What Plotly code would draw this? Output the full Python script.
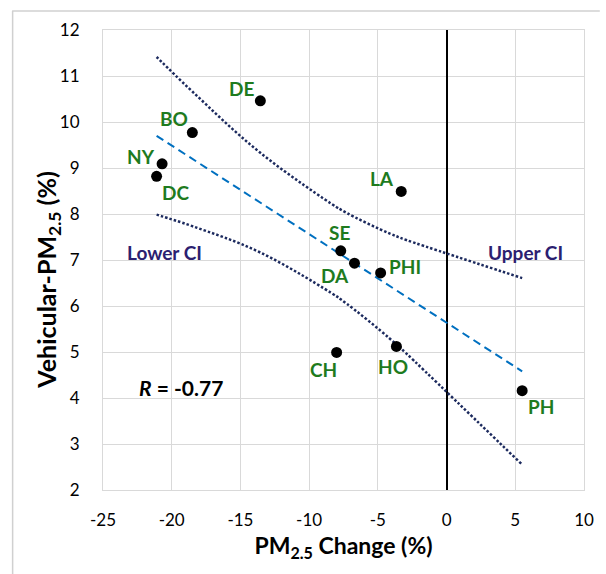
import numpy as np
import plotly.graph_objects as go

# ---- data ----
cities = ["DE", "BO", "NY", "DC", "LA", "SE", "DA", "PHI", "CH", "HO", "PH"]
pm25_change = [-13.55, -18.5, -20.7, -21.1, -3.3, -7.7, -6.7, -4.8, -8.0, -3.65, 5.5]
vehicular_pm25 = [10.46, 9.77, 9.09, 8.82, 8.49, 7.20, 6.93, 6.72, 4.99, 5.12, 4.16]
x_tick_vals = [-25, -20, -15, -10, -5, 0, 5, 10]
y_tick_vals = [2, 3, 4, 5, 6, 7, 8, 9, 10, 11, 12]
t_95_df9 = 2.262  # Student t, 95 %, n-2 = 9 dof

# label offsets (pixels) relative to each point
label_dx = [-19, -18, -21, 19, -19, -1, -19, 24, -13, -3, 19]
label_dy = [12, 14, 7, -16, 13, 18, -12, 6, -17, -20, -16]

x = np.array(pm25_change)
y = np.array(vehicular_pm25)
n = len(x)
slope, intercept = np.polyfit(x, y, 1)
r = np.corrcoef(x, y)[0, 1]
resid = y - (slope * x + intercept)
s = np.sqrt(np.sum(resid ** 2) / (n - 2))
sxx = np.sum((x - x.mean()) ** 2)

xs = np.sort(x)
fit = slope * xs + intercept
hw = t_95_df9 * s * np.sqrt(1.0 / n + (xs - x.mean()) ** 2 / sxx)

GREEN = "#1E7B1E"
NAVY = "#2B2070"
DOT = "#1C2A5E"
FONT = "Lato"

W, H = 606, 574
L, R, T, B = 103, 16, 30, 84
PW, PH = W - L - R, H - T - B


def px_x(p):
    return (p - L) / PW


def px_y(p):
    return (H - B - p) / PH


fig = go.Figure()
fig.add_trace(go.Scatter(x=xs, y=fit + hw, mode="lines",
                         line=dict(color=DOT, width=2.5, dash="2.5px,2px", shape="spline", smoothing=1.1),
                         hoverinfo="skip"))
fig.add_trace(go.Scatter(x=xs, y=fit - hw, mode="lines",
                         line=dict(color=DOT, width=2.5, dash="2.5px,2px", shape="spline", smoothing=1.1),
                         hoverinfo="skip"))
fig.add_trace(go.Scatter(x=[xs[0], xs[-1]], y=[fit[0], fit[-1]], mode="lines",
                         line=dict(color="#0070C0", width=2, dash="8px,5px"), hoverinfo="skip"))
fig.add_trace(go.Scatter(x=x, y=y, mode="markers", marker=dict(color="black", size=11)))

ann = []
for c, xi, yi, dx, dy in zip(cities, pm25_change, vehicular_pm25, label_dx, label_dy):
    ann.append(dict(x=xi, y=yi, xref="x", yref="y", text=f"<b>{c}</b>", showarrow=False,
                    xshift=dx, yshift=dy, font=dict(family=FONT, size=19, color=GREEN)))
ann.append(dict(x=-20.5, y=7.16, xref="x", yref="y", text="<b>Lower CI</b>", showarrow=False,
                font=dict(family=FONT, size=19, color=NAVY)))
ann.append(dict(x=5.75, y=7.17, xref="x", yref="y", text="<b>Upper CI</b>", showarrow=False,
                font=dict(family=FONT, size=19, color=NAVY)))
ann.append(dict(x=-19.3, y=4.22, xref="x", yref="y", text=f"<b><i>R</i> = {r:.2f}</b>", showarrow=False,
                font=dict(family=FONT, size=21, color="black")))
ann.append(dict(x=px_x(47), y=px_y(280), xref="paper", yref="paper", textangle=-90,
                text="<b>Vehicular-PM<sub>2.5</sub> (%)</b>", showarrow=False,
                xanchor="center", yanchor="middle", font=dict(family=FONT, size=25, color="black")))

fig.update_layout(
    width=W, height=H,
    margin=dict(l=L, r=R, t=T, b=B),
    paper_bgcolor="white", plot_bgcolor="white",
    showlegend=False,
    annotations=ann,
    font=dict(family=FONT, size=17, color="black"),
    shapes=[
        dict(type="line", xref="paper", yref="paper", x0=px_x(11), x1=px_x(W),
             y0=px_y(11), y1=px_y(11), line=dict(color="#D0D0D0", width=1.5)),
        dict(type="line", xref="paper", yref="paper", x0=px_x(11.5), x1=px_x(11.5),
             y0=px_y(11), y1=px_y(H), line=dict(color="#D0D0D0", width=1.5)),
    ],
)
fig.update_xaxes(range=[-25, 10], tickvals=x_tick_vals, ticktext=[str(v) for v in x_tick_vals],
                 showgrid=True, gridcolor="#D9D9D9", gridwidth=1,
                 showline=True, linecolor="#D9D9D9", linewidth=1, mirror=True,
                 zeroline=True, zerolinecolor="black", zerolinewidth=1.5,
                 ticks="", ticklabelstandoff=15, tickfont=dict(family=FONT, size=17, color="black"),
                 title=dict(text="<b>PM<sub>2.5</sub> Change (%)</b>",
                            font=dict(family=FONT, size=23, color="black"), standoff=8))
fig.update_yaxes(range=[2, 12], tickvals=y_tick_vals, ticktext=[str(v) for v in y_tick_vals],
                 showgrid=True, gridcolor="#D9D9D9", gridwidth=1,
                 showline=True, linecolor="#D9D9D9", linewidth=1, mirror=True, zeroline=False,
                 ticks="", ticklabelstandoff=19, tickfont=dict(family=FONT, size=17, color="black"))

fig.write_html("out.html", config={"displayModeBar": False},
               post_script="document.body.style.margin='0px';")
